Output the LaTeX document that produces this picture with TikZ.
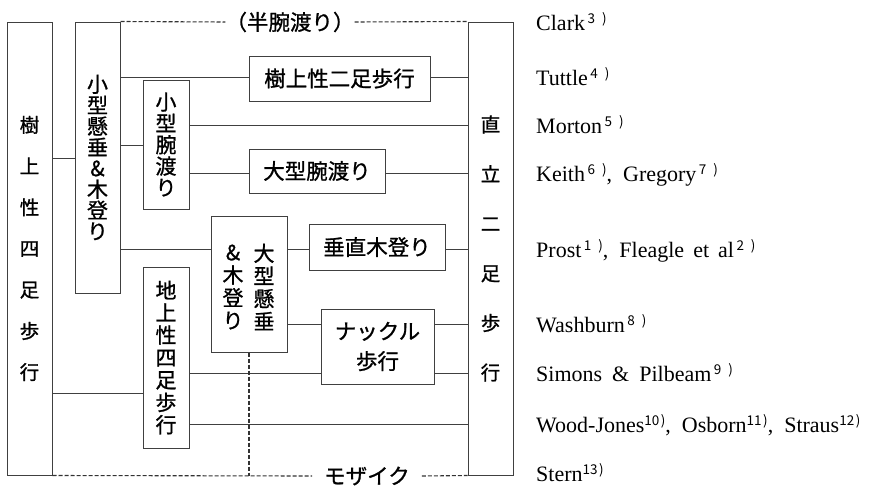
\documentclass[tikz,border=0pt]{standalone}
\usepackage{fontspec}
\setmainfont{Liberation Serif}
\newfontfamily\cjk[FakeBold=1]{Noto Sans CJK JP}
\newfontfamily\cjksup{Noto Sans CJK JP}
\newcommand{\rf}[1]{\raisebox{7pt}{\cjksup\fontsize{13.5}{13.5}\selectfont\hspace{2.5pt}#1\hspace{7pt})}}
\newcommand{\rff}[1]{\raisebox{7pt}{\cjksup\fontsize{13.5}{13.5}\selectfont #1\hspace{1.5pt})}}
\newcommand{\sep}{,\hspace{11pt}}
\begin{document}
\begin{tikzpicture}[x=1pt,y=-1pt,
 box/.style={draw=black!75, line width=1pt, inner sep=0pt, align=center, font=\cjk\fontsize{21.5}{22.5}\selectfont},
 conn/.style={draw=black!75, line width=1pt},
 dsh/.style={draw=black!80, line width=1.1pt, dash pattern=on 4pt off 2pt},
 refl/.style={anchor=base west, inner sep=0pt, font=\fontsize{22}{22}\selectfont},
 lbl/.style={inner sep=0pt, font=\cjk\fontsize{21.5}{22}\selectfont}]
\fill[white] (0,0) rectangle (872,485);
\useasboundingbox (0,0) rectangle (872,485);

% boxes
\node[box, minimum width=45pt, minimum height=453pt, font=\cjk\fontsize{19.5}{41.2}\selectfont] (L) at (29.5,248.5) {樹\\上\\性\\四\\足\\歩\\行};
\node[box, minimum width=45pt, minimum height=271pt, font=\cjk\fontsize{21}{21}\selectfont] (S) at (97.5,157.5) {小\\型\\懸\\垂\\\&\\木\\登\\り};
\node[box, minimum width=45pt, minimum height=453pt, font=\cjk\fontsize{19.5}{49.6}\selectfont] (R) at (490.5,248.5) {直\\立\\二\\足\\歩\\行};
\node[box, minimum width=181pt, minimum height=45pt] (A) at (339.5,78.5) {樹上性二足歩行};
\node[box, minimum width=46pt, minimum height=129pt, font=\cjk\fontsize{21}{21.4}\selectfont] (B) at (166,144.5) {小\\型\\腕\\渡\\り};
\node[box, minimum width=136pt, minimum height=44pt] (C) at (317,171) {大型腕渡り};
\node[box, minimum width=76pt, minimum height=136pt] (D) at (249,284) {};
\node[lbl, align=center, font=\cjk\fontsize{21}{22.7}\selectfont] (Dr) at (264,287) {大\\型\\懸\\垂};
\node[lbl, align=center, font=\cjk\fontsize{21}{22.7}\selectfont] (Dl) at (233,287) {\&\\木\\登\\り};
\node[box, minimum width=136pt, minimum height=46pt] (E) at (377,247) {垂直木登り};
\node[box, minimum width=113pt, minimum height=75pt, font=\cjk\fontsize{21.5}{30}\selectfont] (F) at (377.5,346.5) {ナックル\\歩行};
\node[box, minimum width=46pt, minimum height=181pt, font=\cjk\fontsize{21}{22.4}\selectfont] (G) at (166,357.5) {地\\上\\性\\四\\足\\歩\\行};

% dashed labels
\node[lbl] (T) at (290,22) {（半腕渡り）};
\node[lbl, inner xsep=12pt] (M) at (367,476) {モザイク};

% connectors
\draw[conn] (L.east |- 0,158) -- (S.west |- 0,158);
\draw[conn] (S.east |- 0,77) -- (A.west |- 0,77);
\draw[conn] (A.east |- 0,77) -- (R.west |- 0,77);
\draw[conn] (S.east |- 0,145) -- (B.west |- 0,145);
\draw[conn] (B.east |- 0,125) -- (R.west |- 0,125);
\draw[conn] (B.east |- 0,173) -- (C.west |- 0,173);
\draw[conn] (C.east |- 0,173) -- (R.west |- 0,173);
\draw[conn] (S.east |- 0,249) -- (D.west |- 0,249);
\draw[conn] (D.east |- 0,249) -- (E.west |- 0,249);
\draw[conn] (E.east |- 0,249) -- (R.west |- 0,249);
\draw[conn] (D.east |- 0,324) -- (F.west |- 0,324);
\draw[conn] (F.east |- 0,324) -- (R.west |- 0,324);
\draw[conn] (L.east |- 0,393) -- (G.west |- 0,393);
\draw[conn] (G.east |- 0,373) -- (F.west |- 0,373);
\draw[conn] (F.east |- 0,373) -- (R.west |- 0,373);
\draw[conn] (G.east |- 0,424) -- (R.west |- 0,424);

\draw[dsh] (S.north east) -- (T.west);
\draw[dsh] (T.east) -- (R.north west);
\draw[dsh] (L.south east) -- (M.west);
\draw[dsh] (M.east) -- (R.south west);
\draw[dsh] (D.south) -- (D.south |- L.south);

% references
\node[refl] (r1) at (536,30) {Clark\rf{3}};
\node[refl] (r2) at (536,85) {Tuttle\rf{4}};
\node[refl] (r3) at (536,133) {Morton\rf{5}};
\node[refl] (r4) at (536,181) {Keith\rf{6}\sep Gregory\rf{7}};
\node[refl] (r5) at (536,257) {Prost\rf{1}\sep Fleagle\hspace{9pt}et\hspace{9pt}al\rf{2}};
\node[refl] (r6) at (536,332) {Washburn\rf{8}};
\node[refl] (r7) at (536,381) {Simons\hspace{10pt}\&\hspace{10pt}Pilbeam\rf{9}};
\node[refl] (r8) at (536,432) {Wood-Jones\rff{10}\sep Osborn\rff{11}\sep Straus\rff{12}};
\node[refl] (r9) at (536,481) {Stern\rff{13}};
\end{tikzpicture}
\end{document}
